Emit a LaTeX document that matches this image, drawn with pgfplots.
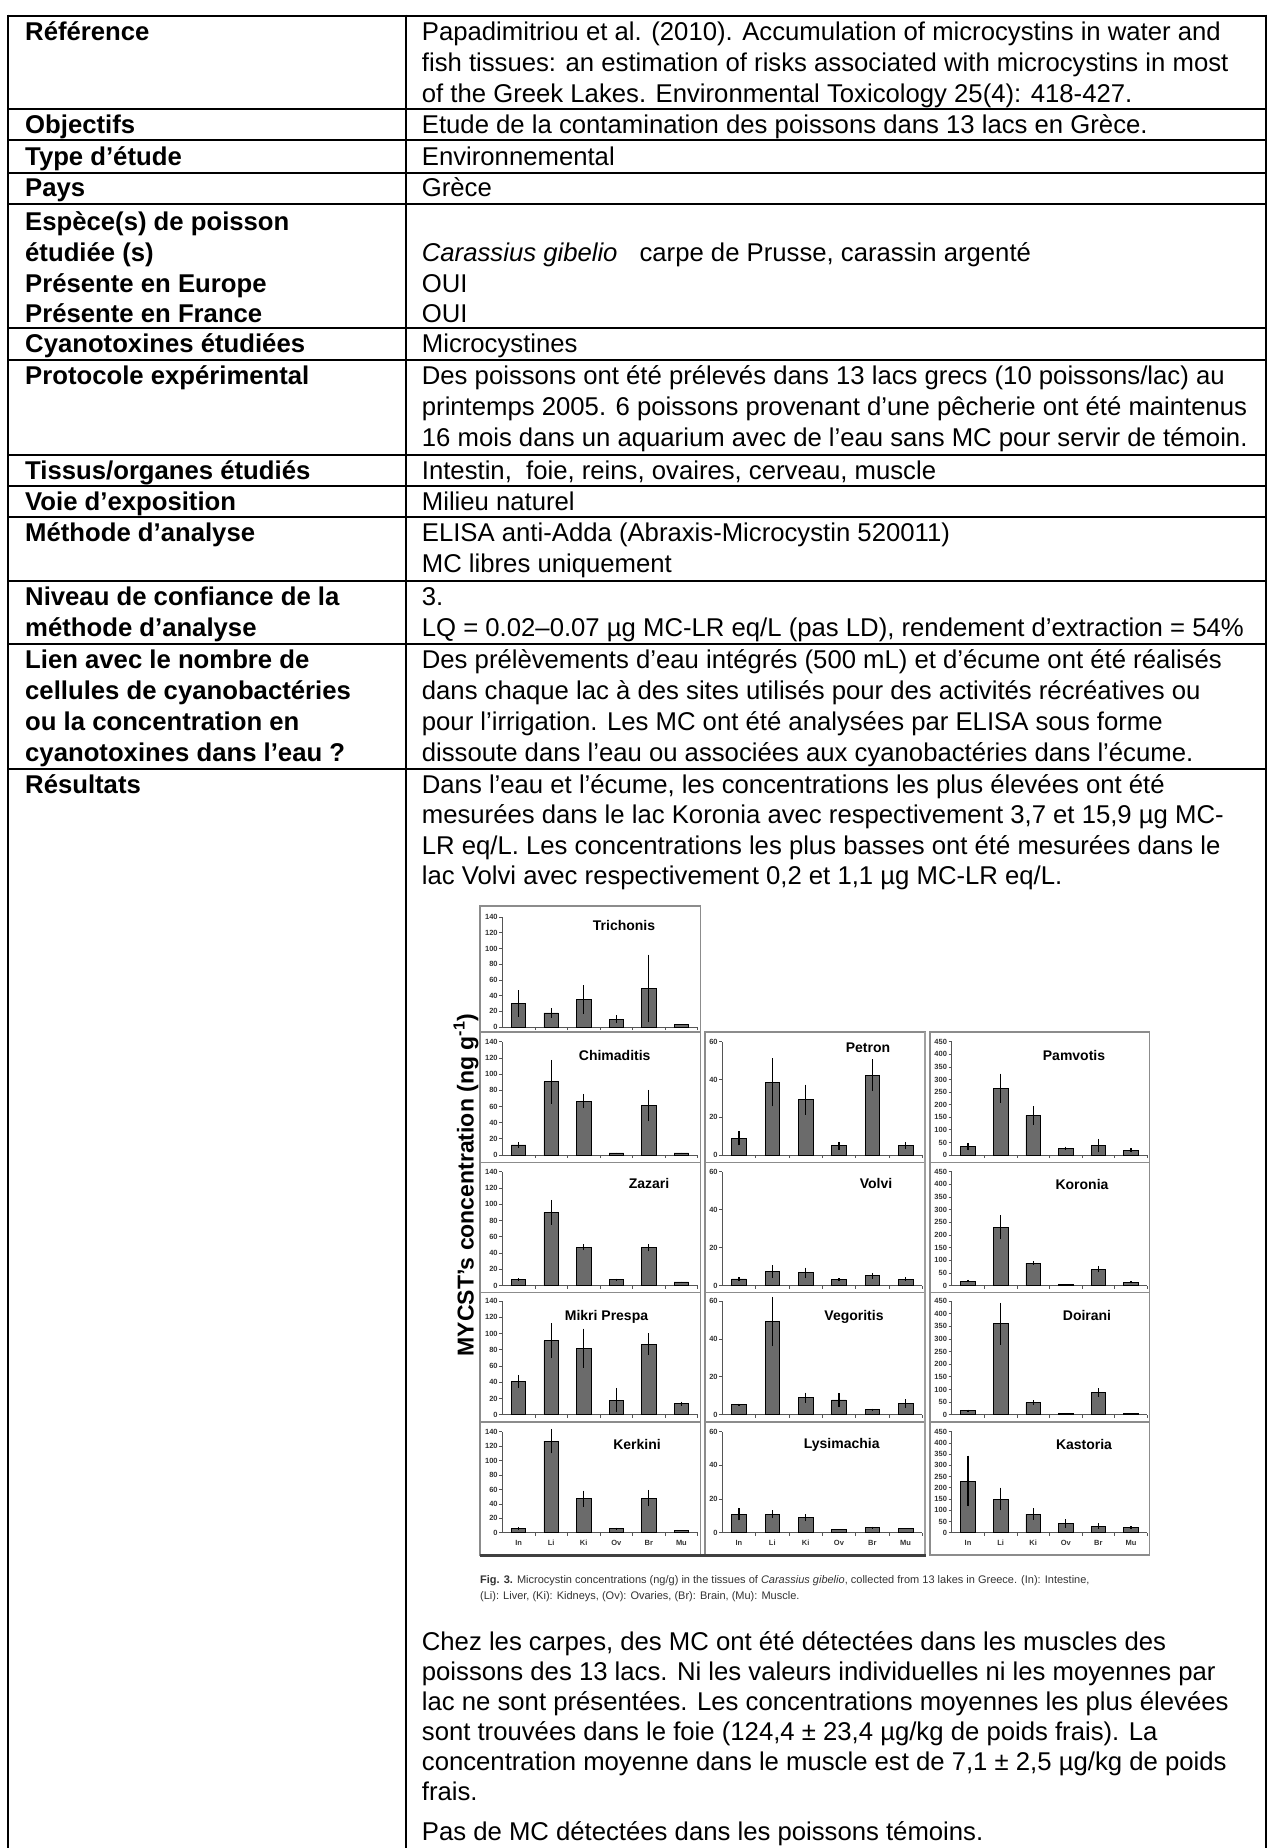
\documentclass[border=0pt]{standalone}
\usepackage{fontspec}
\setmainfont{Liberation Sans}
\usepackage{pgfplots}
\pgfplotsset{compat=1.18}
\definecolor{barfill}{HTML}{6B6B6B}
\definecolor{axgray}{HTML}{555555}
\definecolor{framegray}{HTML}{8C8C8C}
\definecolor{capgray}{HTML}{333333}
\pgfplotsset{
 panel/.style={
  scale only axis, anchor=south west,
  xmin=0.5, xmax=6.5, ymin=0,
  enlargelimits=false, clip=false,
  axis lines*=left,
  axis line style={axgray, line width=0.8pt},
  xtick={1.5,2.5,3.5,4.5,5.5,6.5}, xticklabels={},
  tick align=outside, major tick length=3pt,
  tick style={axgray, line width=0.7pt},
  /pgf/number format/assume math mode=true,
  tick label style={font=\fontsize{7.5}{8}\selectfont\bfseries, text=capgray},
  yticklabel style={inner sep=1.5pt},
  ybar, bar width=14.5pt,
 },
 c1/.style={ymax=140, ytick={0,20,...,140}, width=195.4pt},
 c2/.style={ymax=60, ytick={0,20,40,60}, width=200pt},
 c3/.style={ymax=450, ytick={0,50,...,450}, width=195.6pt},
 labs/.style={extra x ticks={1,2,3,4,5,6}, extra x tick labels={In,Li,Ki,Ov,Br,Mu},
   extra x tick style={major tick length=0pt, xticklabel style={yshift=-4pt}}},
 bars/.style={fill=barfill, draw=black, line width=0.7pt,
   error bars/y dir=both, error bars/y explicit, error bars/error mark=none,
   error bars/error bar style={line width=1.2pt, black}},
}
\tikzset{
 lt/.style={anchor=base west, inner sep=0pt, font=\fontsize{25.7}{30}\selectfont\bfseries},
 rt/.style={anchor=base west, inner sep=0pt, font=\fontsize{25.7}{30}\selectfont},
 ttl/.style={anchor=base, inner sep=0pt, font=\fontsize{14}{16}\selectfont\bfseries},
 capt/.style={anchor=base west, inner sep=0pt, font=\fontsize{11}{13}\selectfont, text=capgray},
}
\newcommand{\LL}[2]{\node[lt] at (25pt,-#1pt) {#2};}
\newcommand{\RR}[2]{\node[rt] at (421.7pt,-#1pt) {#2};}
\newcommand{\hl}[1]{\draw[line width=2pt] (8.3pt,-#1pt) -- (1266pt,-#1pt);}
\begin{document}
\begin{tikzpicture}
\useasboundingbox (0,0) rectangle (1287pt,-1848pt);
\fill[white] (0,0) rectangle (1287pt,-1848pt);
\clip (0,0) rectangle (1287pt,-1848pt);
% table rules
\foreach \y in {15.7,109,140.3,172.7,204.3,328.3,360,455,486,517.3,581,644.3,768.5} {\hl{\y}}
\draw[line width=2pt] (8.3pt,-14.7pt) -- (8.3pt,-1850pt);
\draw[line width=2pt] (406pt,-14.7pt) -- (406pt,-1850pt);
\draw[line width=2pt] (1266pt,-14.7pt) -- (1266pt,-1850pt);
% left column
\LL{40.7}{Référence}
\LL{133.3}{Objectifs}
\LL{165}{Type d’étude}
\LL{196.7}{Pays}
\LL{230}{Espèce(s) de poisson}
\LL{261}{étudiée (s)}
\LL{292.3}{Présente en Europe}
\LL{322.7}{Présente en France}
\LL{352.8}{Cyanotoxines étudiées}
\LL{384.5}{Protocole expérimental}
\LL{479.5}{Tissus/organes étudiés}
\LL{510.5}{Voie d’exposition}
\LL{541.8}{Méthode d’analyse}
\LL{605.5}{Niveau de confiance de la}
\LL{636.5}{méthode d’analyse}
\LL{668.8}{Lien avec le nombre de}
\LL{699.8}{cellules de cyanobactéries}
\LL{730.8}{ou la concentration en}
\LL{761.8}{cyanotoxines dans l’eau ?}
\LL{793}{Résultats}
% right column
\RR{40.7}{Papadimitriou et al. (2010). Accumulation of microcystins in water and}
\RR{71.5}{fish tissues: an estimation of risks associated with microcystins in most}
\RR{102.3}{of the Greek Lakes. Environmental Toxicology 25(4): 418-427.}
\RR{133.3}{Etude de la contamination des poissons dans 13 lacs en Grèce.}
\RR{165}{Environnemental}
\RR{196.7}{Grèce}
\RR{261}{\textit{Carassius gibelio}\hspace{22pt}carpe de Prusse, carassin argenté}
\RR{292.3}{OUI}
\RR{322.7}{OUI}
\RR{352.8}{Microcystines}
\RR{384.5}{Des poissons ont été prélevés dans 13 lacs grecs (10 poissons/lac) au}
\RR{415.5}{printemps 2005. 6 poissons provenant d’une pêcherie ont été maintenus}
\RR{446.5}{16 mois dans un aquarium avec de l’eau sans MC pour servir de témoin.}
\RR{479.5}{Intestin,\ \ foie, reins, ovaires, cerveau, muscle}
\RR{510.5}{Milieu naturel}
\RR{541.8}{ELISA anti-Adda (Abraxis-Microcystin 520011)}
\RR{572.8}{MC libres uniquement}
\RR{605.5}{3.}
\RR{636.5}{LQ = 0.02–0.07 µg MC-LR eq/L (pas LD), rendement d’extraction = 54\%}
\RR{668.8}{Des prélèvements d’eau intégrés (500 mL) et d’écume ont été réalisés}
\RR{699.8}{dans chaque lac à des sites utilisés pour des activités récréatives ou}
\RR{730.8}{pour l’irrigation. Les MC ont été analysées par ELISA sous forme}
\RR{761.8}{dissoute dans l’eau ou associées aux cyanobactéries dans l’écume.}
\RR{793}{Dans l’eau et l’écume, les concentrations les plus élevées ont été}
\RR{823.5}{mesurées dans le lac Koronia avec respectivement 3,7 et 15,9 µg MC-}
\RR{854}{LR eq/L. Les concentrations les plus basses ont été mesurées dans le}
\RR{884.5}{lac Volvi avec respectivement 0,2 et 1,1 µg MC-LR eq/L.}
\RR{1650}{Chez les carpes, des MC ont été détectées dans les muscles des}
\RR{1680}{poissons des 13 lacs. Ni les valeurs individuelles ni les moyennes par}
\RR{1710}{lac ne sont présentées. Les concentrations moyennes les plus élevées}
\RR{1740}{sont trouvées dans le foie (124,4 ± 23,4 µg/kg de poids frais). La}
\RR{1770}{concentration moyenne dans le muscle est de 7,1 ± 2,5 µg/kg de poids}
\RR{1800}{frais.}
\RR{1840}{Pas de MC détectées dans les poissons témoins.}
% panel frames
\begin{scope}[framegray, line width=1.3pt]
\draw (480pt,-906pt) rectangle (700.5pt,-1032pt);
\foreach \a/\b in {1032/1162.7,1162.7/1292.5,1292.5/1422,1422/1555} {
  \draw (480pt,-\a pt) rectangle (700.5pt,-\b pt);
  \draw (705pt,-\a pt) rectangle (925pt,-\b pt);
  \draw (930pt,-\a pt) rectangle (1149.3pt,-\b pt);
}
\end{scope}
\draw[line width=2.5pt, gray!75] (925pt,-1032pt) -- (925pt,-1555pt);
\draw[line width=3pt, black!75] (480pt,-1555pt) -- (926pt,-1555pt);
% y label
\node[rotate=90, font=\fontsize{23}{25}\selectfont\bfseries] at (466pt,-1185pt) {MYCST’s concentration (ng g\textsuperscript{-1})};
% titles
\node[ttl] at (624pt,-930pt) {Trichonis};
\node[ttl] at (614.7pt,-1060pt) {Chimaditis};
\node[ttl] at (649pt,-1188pt) {Zazari};
\node[ttl] at (606.5pt,-1320pt) {Mikri Prespa};
\node[ttl] at (637pt,-1449pt) {Kerkini};
\node[ttl] at (868pt,-1052.7pt) {Petron};
\node[ttl] at (876pt,-1188.3pt) {Volvi};
\node[ttl] at (854pt,-1320pt) {Vegoritis};
\node[ttl] at (841.7pt,-1448.3pt) {Lysimachia};
\node[ttl] at (1074pt,-1060pt) {Pamvotis};
\node[ttl] at (1082pt,-1189pt) {Koronia};
\node[ttl] at (1087pt,-1320pt) {Doirani};
\node[ttl] at (1084pt,-1449.3pt) {Kastoria};
% caption
\node[capt] at (480pt,-1583pt) {\textbf{Fig. 3.} Microcystin concentrations (ng/g) in the tissues of \textit{Carassius gibelio}, collected from 13 lakes in Greece. (In): Intestine,};
\node[capt] at (480pt,-1599pt) {(Li): Liver, (Ki): Kidneys, (Ov): Ovaries, (Br): Brain, (Mu): Muscle.};
% ---- column 1
\begin{axis}[panel,c1,height=110pt,at={(502.3pt,-1027pt)}]
\addplot[bars] coordinates {(1,30) +- (0,17) (2,18) +- (0,6) (3,35) +- (0,18) (4,10) +- (0,5) (5,49) +- (0,43) (6,3) +- (0,0)};
\end{axis}
\begin{axis}[panel,c1,height=113.3pt,at={(502.3pt,-1155pt)}]
\addplot[bars] coordinates {(1,12.5) +- (0,3.5) (2,90.5) +- (0,27) (3,66.5) +- (0,9) (4,2.5) +- (0,0) (5,61) +- (0,19.5) (6,2.5) +- (0,0)};
\end{axis}
\begin{axis}[panel,c1,height=113.8pt,at={(502.3pt,-1285.5pt)}]
\addplot[bars] coordinates {(1,7.4) +- (0,1.5) (2,90) +- (0,15.5) (3,47) +- (0,3.5) (4,7) +- (0,1.5) (5,46.5) +- (0,4.5) (6,4.5) +- (0,0)};
\end{axis}
\begin{axis}[panel,c1,height=113.7pt,at={(502.3pt,-1414.7pt)}]
\addplot[bars] coordinates {(1,41) +- (0,8) (2,91) +- (0,21.5) (3,82) +- (0,24) (4,18) +- (0,15) (5,87) +- (0,13.5) (6,13.5) +- (0,2.5)};
\end{axis}
\begin{axis}[panel,c1,labs,height=101pt,at={(502.3pt,-1532.7pt)}]
\addplot[bars] coordinates {(1,5.5) +- (0,2) (2,127) +- (0,17) (3,47) +- (0,11.5) (4,5.5) +- (0,1.5) (5,48) +- (0,11.5) (6,3.7) +- (0,0)};
\end{axis}
% ---- column 2
\begin{axis}[panel,c2,height=113.3pt,at={(722.3pt,-1155pt)}]
\addplot[bars] coordinates {(1,8.8) +- (0,3.7) (2,38.5) +- (0,12.7) (3,29.3) +- (0,8) (4,4.9) +- (0,2) (5,42.2) +- (0,8.4) (6,5.1) +- (0,1.8)};
\end{axis}
\begin{axis}[panel,c2,height=113.8pt,at={(722.3pt,-1285.5pt)}]
\addplot[bars] coordinates {(1,3.5) +- (0,1) (2,7.3) +- (0,3.3) (3,6.7) +- (0,2.7) (4,3) +- (0,0.8) (5,5.1) +- (0,1.5) (6,3.4) +- (0,1)};
\end{axis}
\begin{axis}[panel,c2,height=113.7pt,at={(722.3pt,-1414.7pt)}]
\addplot[bars] coordinates {(1,5.3) +- (0,0.5) (2,49.2) +- (0,13) (3,9) +- (0,2.7) (4,7.8) +- (0,3.7) (5,2.7) +- (0,0.5) (6,5.9) +- (0,2.3)};
\end{axis}
\begin{axis}[panel,c2,labs,height=101pt,at={(722.3pt,-1532.7pt)}]
\addplot[bars] coordinates {(1,11) +- (0,3.7) (2,11) +- (0,2.4) (3,8.9) +- (0,2) (4,2.2) +- (0,0) (5,3) +- (0,0.6) (6,2.6) +- (0,0)};
\end{axis}
% ---- column 3
\begin{axis}[panel,c3,height=113.3pt,at={(951.7pt,-1155pt)}]
\addplot[bars] coordinates {(1,33) +- (0,15) (2,265) +- (0,58) (3,157) +- (0,36) (4,26.5) +- (0,7) (5,37) +- (0,27) (6,18.6) +- (0,8)};
\end{axis}
\begin{axis}[panel,c3,height=113.8pt,at={(951.7pt,-1285.5pt)}]
\addplot[bars] coordinates {(1,17) +- (0,5) (2,230) +- (0,48) (3,89) +- (0,6.7) (4,5.3) +- (0,0) (5,65) +- (0,13) (6,13.3) +- (0,5)};
\end{axis}
\begin{axis}[panel,c3,height=113.7pt,at={(951.7pt,-1414.7pt)}]
\addplot[bars] coordinates {(1,16) +- (0,4) (2,360) +- (0,83) (3,48) +- (0,10) (4,4) +- (0,0) (5,88) +- (0,16.6) (6,4) +- (0,0)};
\end{axis}
\begin{axis}[panel,c3,labs,height=101pt,at={(951.7pt,-1532.7pt)}]
\addplot[bars] coordinates {(1,230) +- (0,113) (2,150) +- (0,51) (3,83) +- (0,25) (4,41.5) +- (0,19) (5,29.6) +- (0,13) (6,22.2) +- (0,7)};
\end{axis}
\end{tikzpicture}
\end{document}
